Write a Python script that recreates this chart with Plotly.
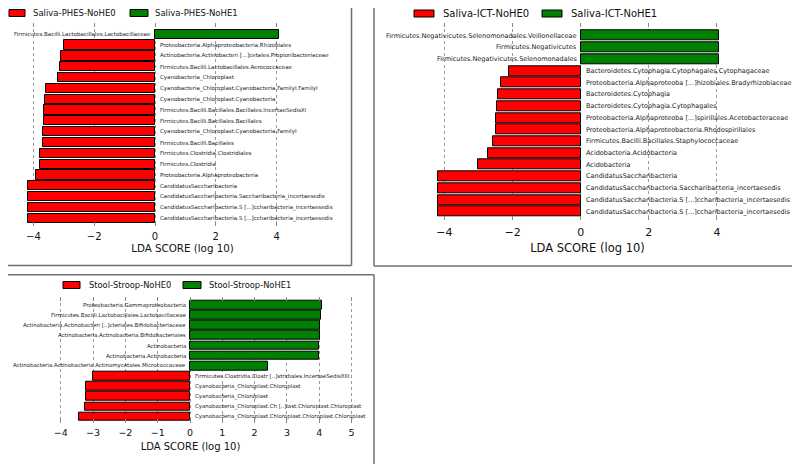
import plotly.graph_objects as go

# the page puts the plot 8px in from the top-left corner
W, H = 792, 456
OX, OY = 8, 8

# ---- panel 1: Saliva-PHES ----
phes_labels = [
    "Firmicutes.Bacilli.Lactobacillales.Lactobacillaceae",
    "Proteobacteria.Alphaproteobacteria.Rhizobiales",
    "Actinobacteria.Actinobacteri [...]cetales.Propionibacteriaceae",
    "Firmicutes.Bacilli.Lactobacillales.Aerococcaceae",
    "Cyanobacteria_Chloroplast",
    "Cyanobacteria_Chloroplast.Cyanobacteria.FamilyI.FamilyI",
    "Cyanobacteria_Chloroplast.Cyanobacteria",
    "Firmicutes.Bacilli.Bacillales.Bacillales.IncertaeSedisXI",
    "Firmicutes.Bacilli.Bacillales.Bacillales",
    "Cyanobacteria_Chloroplast.Cyanobacteria.FamilyI",
    "Firmicutes.Bacilli.Bacillales",
    "Firmicutes.Clostridia.Clostridiales",
    "Firmicutes.Clostridia",
    "Proteobacteria.Alphaproteobacteria",
    "CandidatusSaccharibacteria",
    "CandidatusSaccharibacteria.Saccharibacteria_incertaesedis",
    "CandidatusSaccharibacteria.S [...]ccharibacteria_incertaesedis",
    "CandidatusSaccharibacteria.S [...]ccharibacteria_incertaesedis",
]
phes_lda = [4.09, -2.99, -3.10, -3.14, -3.20, -3.57, -3.61, -3.65, -3.66,
            -3.67, -3.70, -3.77, -3.78, -3.92, -4.17, -4.17, -4.17, -4.17]
phes_groups = ["Saliva-PHES-NoHE0", "Saliva-PHES-NoHE1"]

# ---- panel 2: Saliva-ICT ----
ict_labels = [
    "Firmicutes.Negativicutes.Selenomonadales.Veillonellaceae",
    "Firmicutes.Negativicutes",
    "Firmicutes.Negativicutes.Selenomonadales",
    "Bacteroidetes.Cytophagia.Cytophagales.Cytophagaceae",
    "Proteobacteria.Alphaproteoba [...]hizobiales.Bradyrhizobiaceae",
    "Bacteroidetes.Cytophagia",
    "Bacteroidetes.Cytophagia.Cytophagales",
    "Proteobacteria.Alphaproteoba [...]spirillales.Acetobacteraceae",
    "Proteobacteria.Alphaproteobacteria.Rhodospirillales",
    "Firmicutes.Bacilli.Bacillales.Staphylococcaceae",
    "Acidobacteria.Acidobacteria",
    "Acidobacteria",
    "CandidatusSaccharibacteria",
    "CandidatusSaccharibacteria.Saccharibacteria_incertaesedis",
    "CandidatusSaccharibacteria.S [...]ccharibacteria_incertaesedis",
    "CandidatusSaccharibacteria.S [...]ccharibacteria_incertaesedis",
]
ict_lda = [4.07, 4.07, 4.07, -2.11, -2.35, -2.44, -2.46, -2.49, -2.50,
           -2.58, -2.71, -3.02, -4.20, -4.20, -4.20, -4.20]
ict_groups = ["Saliva-ICT-NoHE0", "Saliva-ICT-NoHE1"]

# ---- panel 3: Stool-Stroop ----
stroop_labels = [
    "Proteobacteria.Gammaproteobacteria",
    "Firmicutes.Bacilli.Lactobacillales.Lactobacillaceae",
    "Actinobacteria.Actinobacteri [..]cteriales.Bifidobacteriaceae",
    "Actinobacteria.Actinobacteria.Bifidobacteriales",
    "Actinobacteria",
    "Actinobacteria.Actinobacteria",
    "Actinobacteria.Actinobacteria.Actinomycetales.Micrococcaceae",
    "Firmicutes.Clostridia.Clostr [..]stridiales.IncertaeSedisXIII",
    "Cyanobacteria_Chloroplast.Chloroplast",
    "Cyanobacteria_Chloroplast",
    "Cyanobacteria_Chloroplast.Ch [..]last.Chloroplast.Chloroplast",
    "Cyanobacteria_Chloroplast.Chloroplast.Chloroplast.Chloroplast",
]
stroop_lda = [4.08, 4.06, 4.02, 4.02, 3.99, 3.99, 2.40,
              -2.99, -3.21, -3.23, -3.25, -3.44]
stroop_groups = ["Stool-Stroop-NoHE0", "Stool-Stroop-NoHE1"]

RED, GREEN = "#ff0000", "#008000"
FONT = "DejaVu Sans"


def px(x):
    return (x - OX) / W


def py(y):
    return 1 - (y - OY) / H


fig = go.Figure()


def add_panel(n, labels, lda, groups, xdom, ydom, zero, scale, yrange, ticks,
              lab_size, tick_size, title_size, tick_off, title_off, legend):
    xa = "xaxis" if n == 1 else "xaxis%d" % n
    ya = "yaxis" if n == 1 else "yaxis%d" % n
    xr = "x" if n == 1 else "x%d" % n
    yr = "y" if n == 1 else "y%d" % n
    rows = list(range(len(labels) - 1, -1, -1))
    neg = [v < 0 for v in lda]
    fig.add_trace(go.Bar(
        x=lda, y=rows, orientation="h", width=0.85,
        marker=dict(color=[RED if v else GREEN for v in neg],
                    line=dict(color="black", width=1)),
        xaxis=xr, yaxis=yr, showlegend=False, hoverinfo="skip"))
    for lab, v, r in zip(labels, lda, rows):
        fig.add_annotation(
            x=0, y=r, xref=xr, yref=yr, text=lab, showarrow=False,
            xanchor="left" if v < 0 else "right", xshift=3 if v < 0 else -2,
            font=dict(family=FONT, size=lab_size, color="#222"))
    fig.layout[xa] = dict(
        domain=[px(xdom[0]), px(xdom[1])],
        range=[(xdom[0] - zero) / scale, (xdom[1] - zero) / scale], anchor=yr,
        tickvals=ticks, ticktext=[str(t).replace("-", "\u2212") for t in ticks],
        showgrid=True, gridcolor="#999", griddash="dot", gridwidth=1,
        zeroline=False, showline=False, ticks="inside", ticklen=4,
        tickcolor="#888", mirror="ticks", ticklabelstandoff=tick_off,
        tickfont=dict(family=FONT, size=tick_size, color="#111"),
        title=dict(text="LDA SCORE (log 10)", standoff=title_off,
                   font=dict(family=FONT, size=title_size, color="#111")))
    fig.layout[ya] = dict(
        domain=[py(ydom[1]), py(ydom[0])], range=yrange, anchor=xr,
        showticklabels=False, showgrid=False, zeroline=False, ticks="")
    # legend boxes
    (bx0, bx1, tx0), (gx0, gx1, tx1), ly, lsize = legend
    for (a, b), c in (((bx0, bx1), RED), ((gx0, gx1), GREEN)):
        fig.add_shape(type="rect", xref="paper", yref="paper",
                      x0=px(a), x1=px(b), y0=py(ly - 3.5), y1=py(ly + 3.5),
                      fillcolor=c, line=dict(color="black", width=1))
    for t, g in ((tx0, groups[0]), (tx1, groups[1])):
        fig.add_annotation(x=px(t), y=py(ly), xref="paper", yref="paper",
                           text=g, showarrow=False, xanchor="left",
                           yanchor="middle",
                           font=dict(family=FONT, size=lsize, color="#111"))


add_panel(1, phes_labels, phes_lda, phes_groups,
          xdom=(20, 345), ydom=(23, 226), zero=155, scale=30.4,
          yrange=[-0.71, 18.04], ticks=[-4, -2, 0, 2, 4],
          lab_size=5.5, tick_size=10, title_size=10.3, tick_off=3, title_off=2,
          legend=((9, 25, 31), (130, 148, 153), 13, 8.5))
add_panel(2, ict_labels, ict_lda, ict_groups,
          xdom=(380, 795), ydom=(23.3, 220), zero=580.7, scale=34.07,
          yrange=[-0.71, 16.06], ticks=[-4, -2, 0, 2, 4],
          lab_size=6.5, tick_size=11, title_size=11.5, tick_off=4, title_off=5,
          legend=((414, 434, 441), (542, 562, 569), 13.5, 10))
add_panel(3, stroop_labels, stroop_lda, stroop_groups,
          xdom=(9, 372), ydom=(296.7, 422.7), zero=190, scale=32.3,
          yrange=[-0.59, 11.82], ticks=[-4, -3, -2, -1, 0, 1, 2, 3, 4, 5],
          lab_size=5.45, tick_size=9.5, title_size=10, tick_off=3, title_off=5,
          legend=((63, 80, 87), (183, 201, 207), 285, 8.3))

# panel frames
frame = dict(color="#707070", width=1.5)
for x0, y0, x1, y1 in [(351.5, 0, 351.5, 265.5), (0, 265.5, 351.5, 265.5),
                       (374, 0, 374, 266), (374, 266, 799, 266), (799, 0, 799, 266),
                       (0, 274.7, 374, 274.7), (374, 274.7, 374, 464)]:
    fig.add_shape(type="line", xref="paper", yref="paper",
                  x0=px(x0), y0=py(y0), x1=px(x1), y1=py(y1), line=frame)

fig.update_layout(width=W, height=H, margin=dict(l=0, r=0, t=0, b=0),
                  plot_bgcolor="white", paper_bgcolor="white",
                  bargap=0, showlegend=False)

fig.write_html("out.html")
